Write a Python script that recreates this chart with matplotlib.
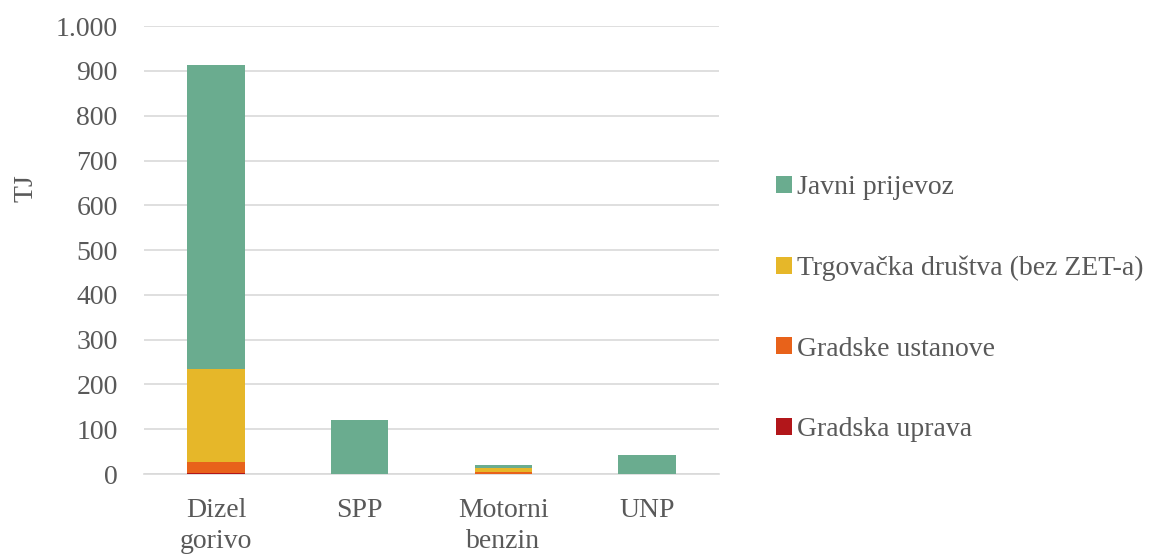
import numpy as np
import matplotlib
matplotlib.use("Agg")
from matplotlib import pyplot as plt
from matplotlib.patches import Patch
from matplotlib.ticker import FuncFormatter

categories = ["Dizel\ngorivo", "SPP", "Motorni\nbenzin", "UNP"]
series_names = ["Gradska uprava", "Gradske ustanove",
                "Trgovačka društva (bez ZET-a)", "Javni prijevoz"]
gradska_uprava = [2, 0, 1, 0]
gradske_ustanove = [25, 0, 4, 0]
trgovacka_drustva = [207, 0, 9, 0]
javni_prijevoz = [679, 120, 6, 42]
y_ticks = [0, 100, 200, 300, 400, 500, 600, 700, 800, 900, 1000]

colors = ["#b2161a", "#e8621a", "#e6b729", "#6aac8f"]
TEXT_COLOR = "#595959"
FS = 20

plt.rcParams['font.family'] = ['Liberation Serif', 'DejaVu Serif']

fig = plt.figure(figsize=(11.71, 5.57), dpi=100)
ax = fig.add_axes([0.123, 0.149, 0.491, 0.804])

x = np.arange(len(categories))
bottom = np.zeros(len(categories))
for values, color, name in zip([gradska_uprava, gradske_ustanove, trgovacka_drustva, javni_prijevoz],
                               colors, series_names):
    ax.bar(x, values, width=0.40, bottom=bottom, color=color, label=name, zorder=3)
    bottom += np.array(values)

ax.set_xlim(-0.5, len(categories) - 0.5)
ax.set_ylim(0, 1000)
ax.set_yticks(y_ticks)
ax.yaxis.set_major_formatter(FuncFormatter(lambda v, p: f"{int(v):,}".replace(",", ".")))
ax.set_xticks(x)
ax.set_xticklabels(categories, linespacing=1.35)
ax.grid(axis="y", color="#d9d9d9", lw=1.2, zorder=0)
for side in ["top", "right", "left"]:
    ax.spines[side].set_visible(False)
ax.spines["bottom"].set_color("#d9d9d9")
ax.spines["bottom"].set_linewidth(1.2)
ax.tick_params(axis="both", length=0, labelsize=FS, colors=TEXT_COLOR)
ax.tick_params(axis="x", pad=17)
ax.tick_params(axis="y", pad=19)

# y label sits higher than the axis centre in the original
fig.text(26 / 1171, 1 - 188 / 557, "TJ", rotation=90, fontsize=FS, color=TEXT_COLOR,
         ha="center", va="center")

handles = [Patch(facecolor=c, label=n) for c, n in zip(colors, series_names)][::-1]
leg = fig.legend(handles=handles, loc="center left", bbox_to_anchor=(0.663, 0.446),
                 frameon=False, fontsize=FS, handlelength=0.55, handleheight=0.55,
                 handletextpad=0.2, labelspacing=2.0, labelcolor=TEXT_COLOR,
                 borderpad=0, borderaxespad=0)

fig.savefig("out.png", dpi=100)
